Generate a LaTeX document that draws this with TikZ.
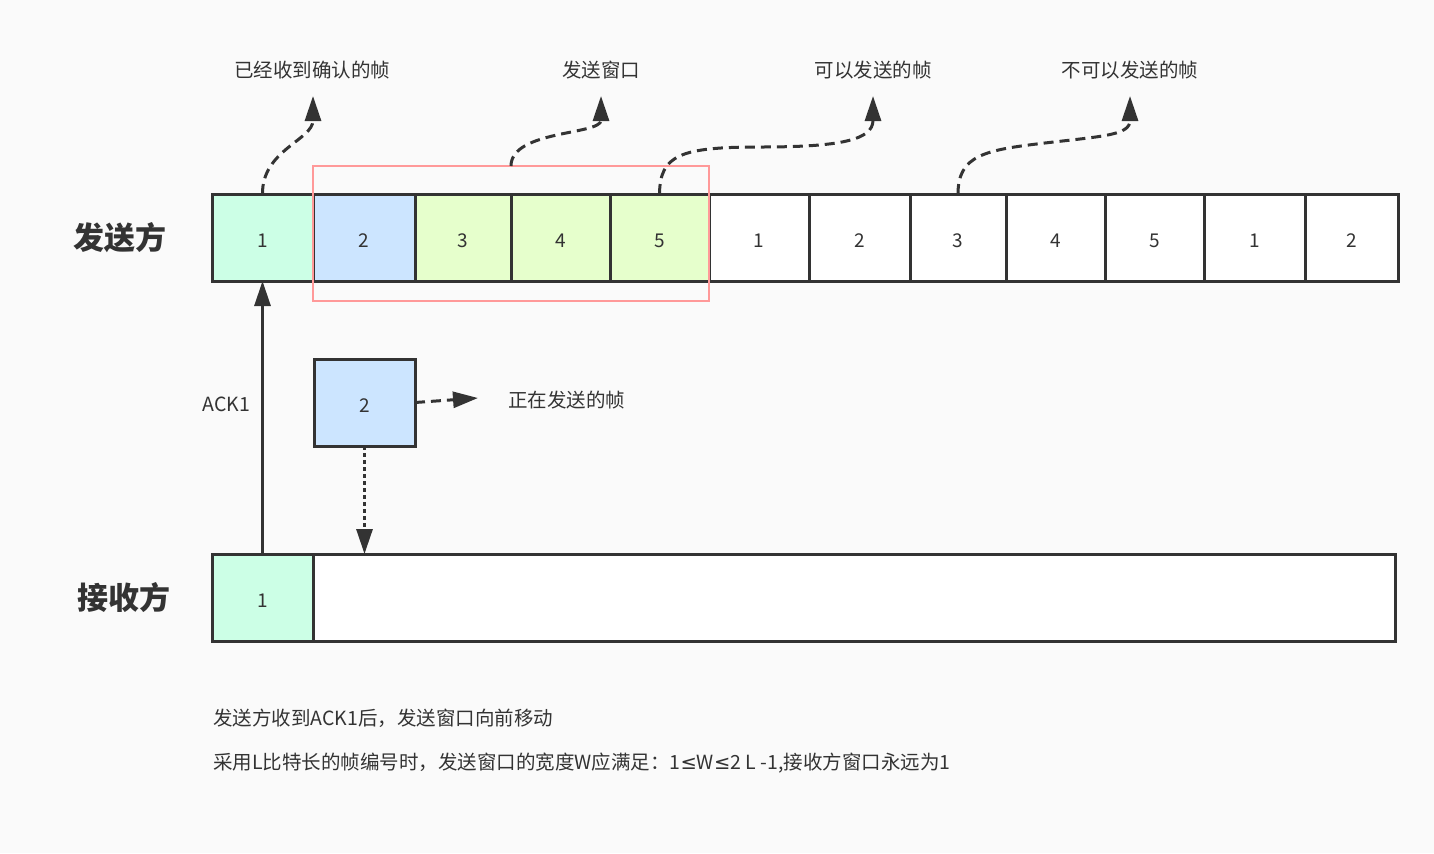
\documentclass[tikz,border=0pt]{standalone}
\usepackage{fontspec}
\setmainfont{Noto Sans CJK SC}
\newfontfamily\symfont{DejaVu Sans}
\usetikzlibrary{positioning, arrows.meta}
\definecolor{bgc}{HTML}{FAFAFA}
\definecolor{ink}{HTML}{333333}
\definecolor{ackgreen}{HTML}{CCFFE6}
\definecolor{sendblue}{HTML}{CCE5FF}
\definecolor{okgreen}{HTML}{E6FFCC}
\definecolor{winpink}{HTML}{FF9999}

\begin{document}
\begin{tikzpicture}[x=0.5pt, y=-0.5pt,
    cell/.style = {draw=ink, line width=1.5pt, fill=white, minimum height=43.5pt, inner sep=0pt, outer sep=0pt, text height=10pt, text depth=0pt, text=ink, font=\fontsize{9.5}{11}\selectfont},
    head/.style = {text=ink, font=\fontsize{15.5}{18}\selectfont\bfseries},
    note/.style = {text=ink, font=\fontsize{9.75}{12}\selectfont},
    tip/.style = {-{Triangle[length=12.5pt, width=8pt]}, draw=ink, line width=1.5pt},
    dashline/.style = {tip, dash pattern=on 5pt off 3pt}]
    \fill[bgc] (0,0) rectangle (1434,853);
    % sender frames
    \node[cell, fill=ackgreen, minimum width=50.5pt, anchor=north west] (s1) at (212,194) {1};
    \node[cell, fill=sendblue, minimum width=51pt, right=0pt of s1] (s2) {2};
    \node[cell, fill=okgreen, minimum width=48pt, right=0pt of s2] (s3) {3};
    \node[cell, fill=okgreen, minimum width=49.5pt, right=0pt of s3] (s4) {4};
    \node[cell, fill=okgreen, minimum width=49.5pt, right=0pt of s4] (s5) {5};
    \node[cell, minimum width=50pt, right=0pt of s5] (s6) {1};
    \node[cell, minimum width=50.5pt, right=0pt of s6] (s7) {2};
    \node[cell, minimum width=48pt, right=0pt of s7] (s8) {3};
    \node[cell, minimum width=49.5pt, right=0pt of s8] (s9) {4};
    \node[cell, minimum width=49.5pt, right=0pt of s9] (s10) {5};
    \node[cell, minimum width=50.5pt, right=0pt of s10] (s11) {1};
    \node[cell, minimum width=46.5pt, right=0pt of s11] (s12) {2};
    \node[draw=winpink, line width=1.25pt, minimum width=198pt, minimum height=67.5pt, inner sep=0pt, outer sep=0pt, anchor=north west] (win) at (313,166) {};
    \node[head, left=19pt of s1] (snd) {发送方};
    % receiver
    \node[cell, fill=ackgreen, minimum width=50.5pt, anchor=north west] (r1) at (212,554) {1};
    \node[cell, minimum width=541pt, right=0pt of r1] (rbuf) {};
    \node[head, left=17pt of r1] (rcv) {接收方};
    % frame on the way
    \node[cell, fill=sendblue, minimum width=50.5pt, anchor=north west] (m) at (314,359) {2};
    \node[note, anchor=west] (mlabel) at (501,400) {正在发送的帧};
    \coordinate (t5) at (478,398);
    \draw[dashline] (m.east) -- (t5);
    \draw[tip, dash pattern=on 2pt off 1.5pt] (m.south) -- (m.south |- rbuf.north);
    \draw[tip] (r1.north) -- node[note, pos=0.55, left=2pt] {ACK1} (s1.south);
    % labels on top
    \node[note] (l1) at (312,70) {已经收到确认的帧};
    \node[note] (l2) at (601,70) {发送窗口};
    \node[note] (l3) at (873,70) {可以发送的帧};
    \node[note] (l4) at (1130,70) {不可以发送的帧};
    \coordinate (t1) at (313,96);
    \coordinate (t2) at (601,96);
    \coordinate (t3) at (873,96);
    \coordinate (t4) at (1130,96);
    \draw[dashline] (s1.north) .. controls (262,150) and (313,140) .. (t1);
    \draw[dashline] (win.north) .. controls (511,130) and (601,135) .. (t2);
    \draw[dashline] (s5.north) .. controls (660,155) and (680,147) .. (760,147) .. controls (840,147) and (873,140) .. (t3);
    \draw[dashline] (s8.north) .. controls (958,155) and (985,150) .. (1045,143) .. controls (1105,136) and (1130,135) .. (t4);
    % notes
    \node[note, anchor=west] (n1) at (206,718) {发送方收到ACK1后，发送窗口向前移动};
    \node[note, anchor=west] (n2) at (206,763) {采用L比特长的帧编号时，发送窗口的宽度W应满足：1{\symfont ≤}W{\symfont ≤}2 L -1,接收方窗口永远为1};
\end{tikzpicture}
\end{document}
